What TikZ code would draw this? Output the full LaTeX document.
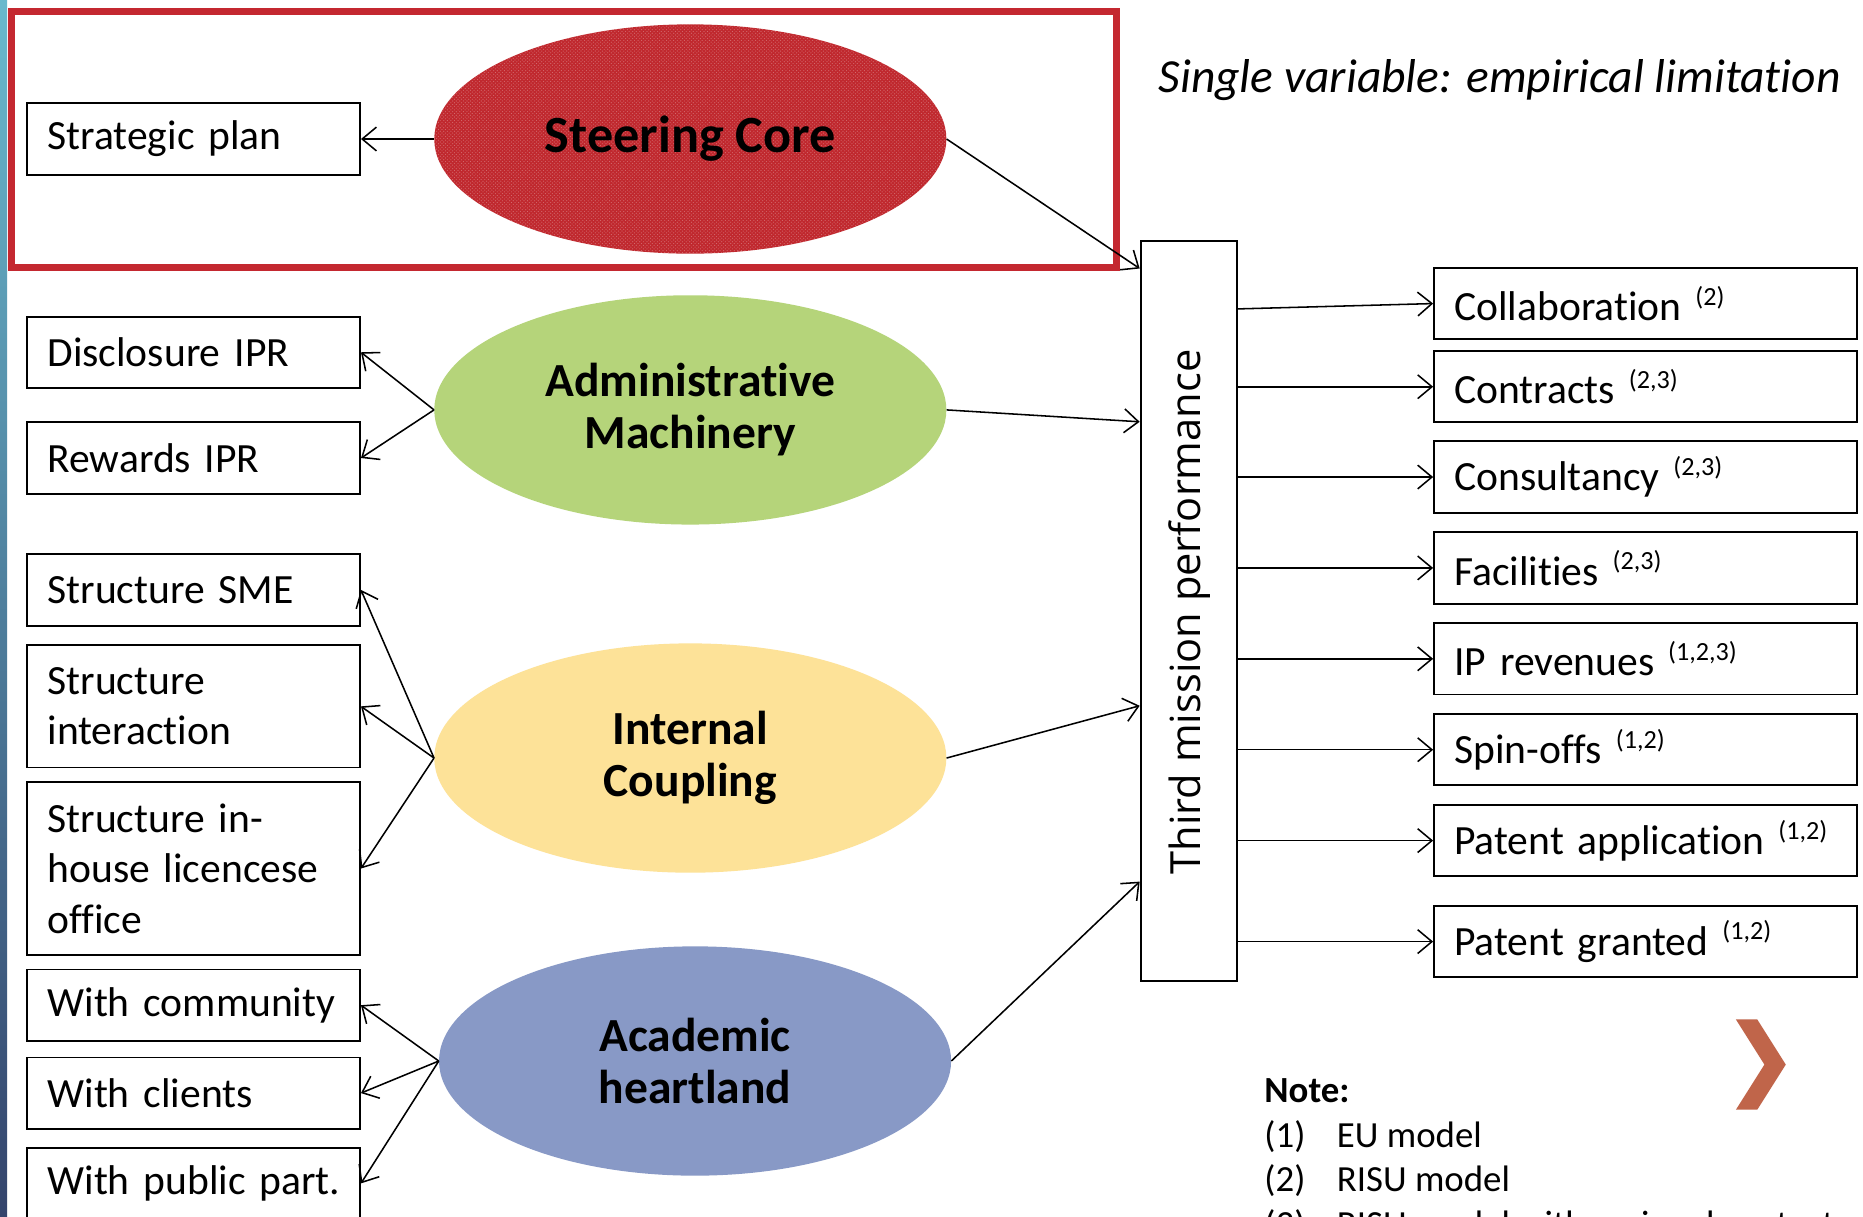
\documentclass[tikz,border=0pt]{standalone}
\usepackage{fontspec}
\setmainfont{Carlito}[Ligatures=NoCommon]
\newfontfamily\tmfont{Open Sans}
\usetikzlibrary{shapes.geometric,arrows.meta,patterns}
\definecolor{scred}{RGB}{192,40,46}
\definecolor{framered}{RGB}{196,40,48}
\definecolor{amgreen}{RGB}{181,212,122}
\definecolor{icyellow}{RGB}{253,226,152}
\definecolor{ahblue}{RGB}{136,153,198}
\definecolor{chev}{RGB}{192,101,74}
\definecolor{striptop}{RGB}{105,185,205}
\definecolor{stripbot}{RGB}{52,68,108}
\newcommand\supx[1]{\raisebox{13pt}{\fontsize{22}{22}\selectfont #1}}
\begin{document}
\begin{tikzpicture}[x=1pt,y=-1pt,
  lbox/.style={draw,line width=1.6pt,minimum width=280pt,text width=246pt,inner xsep=17pt,inner ysep=0pt,align=left,font=\fontsize{35}{42.5}\selectfont},
  rbox/.style={draw,line width=1.6pt,minimum width=356pt,text width=322pt,inner xsep=17pt,inner ysep=0pt,align=left,minimum height=60pt,font=\fontsize{35}{42.5}\selectfont},
  ell/.style={ellipse,minimum width=431pt,minimum height=193pt,inner sep=0pt,align=center,font=\bfseries\fontsize{40}{44}\selectfont},
  arr/.style={-{Straight Barb[length=12pt,width=20pt]},line width=1.3pt},
  notetxt/.style={anchor=base west,inner sep=0pt,font=\fontsize{31}{31}\selectfont}]
\useasboundingbox (0,0) rectangle (1568,1024);
\fill[white] (0,0) rectangle (1568,1024);
% left strip
\shade[top color=striptop,bottom color=stripbot] (0,0) rectangle (6,1024);
% red frame
\draw[framered,line width=6pt] (10,10) rectangle (940,225);
% ellipses
\node[ell,fill=scred,postaction={fill opacity=0.3,pattern=crosshatch dots,pattern color=white},font=\bfseries\fontsize{44}{44}\selectfont] (sc) at (581,117) {Steering Core};
\node[ell,fill=amgreen] (am) at (581,345) {Administrative\\Machinery};
\node[ell,fill=icyellow] (ic) at (581,638) {Internal\\Coupling};
\node[ell,fill=ahblue] (ah) at (585,893) {Academic\\heartland};
% left boxes
\node[lbox,minimum height=60pt] (sp) at (163,117) {Strategic plan};
\node[lbox,minimum height=60pt] (dis) at (163,296.5) {Disclosure IPR};
\node[lbox,minimum height=60pt] (rew) at (163,385.5) {Rewards IPR};
\node[lbox,minimum height=60pt] (sme) at (163,496.5) {Structure SME};
\node[lbox,minimum height=103pt] (sint) at (163,594.5) {Structure\\interaction};
\node[lbox,minimum height=146pt] (sinh) at (163,731) {Structure in-\\house licencese\\office};
\node[lbox,minimum height=60pt] (wcom) at (163,846) {\mbox{With community}};
\node[lbox,minimum height=60pt] (wcli) at (163,920) {With clients};
\node[lbox,minimum height=60pt] (wpub) at (163,996) {\mbox{With public part.}};
% third mission box
\node[draw,line width=1.6pt,minimum width=81pt,minimum height=623pt,inner sep=0pt] (tm) at (1000.5,514.5) {};
\node[rotate=90,inner sep=0pt,font=\tmfont\fontsize{35}{35}\selectfont] (tmt) at (1001,515) {Third mission performance};
% right boxes
\node[rbox] (col) at (1385,255.5) {Collaboration \supx{(2)}};
\node[rbox] (con) at (1385,325.5) {Contracts \supx{(2,3)}};
\node[rbox] (cns) at (1385,401.5) {Consultancy \supx{(2,3)}};
\node[rbox] (fac) at (1385,478) {Facilities \supx{(2,3)}};
\node[rbox] (ipr) at (1385,554.5) {IP revenues \supx{(1,2,3)}};
\node[rbox] (spo) at (1385,631) {Spin-offs \supx{(1,2)}};
\node[rbox] (pap) at (1385,707.5) {Patent application \supx{(1,2)}};
\node[rbox] (pgr) at (1385,792.5) {Patent granted \supx{(1,2)}};
% arrows left
\draw[arr] (sc.west) -- (sp.east);
\draw[arr] (am.west) -- (dis.east);
\draw[arr] (am.west) -- (rew.east);
\draw[arr] (ic.west) -- (sme.east);
\draw[arr] (ic.west) -- (sint.east);
\draw[arr] (ic.west) -- (sinh.east);
\draw[arr] (ah.west) -- (wcom.east);
\draw[arr] (ah.west) -- (wcli.east);
\draw[arr] (ah.west) -- (wpub.east);
% arrows to third mission
\draw[arr] (sc.east) -- (tm.west |- 0,226);
\draw[arr] (am.east) -- (tm.west |- 0,355);
\draw[arr] (ic.east) -- (tm.west |- 0,594);
\draw[arr] (ah.east) -- (tm.west |- 0,742);
% arrows right
\draw[arr] (tm.east |- 0,260) -- (col.west);
\draw[arr] (tm.east |- con.west) -- (con.west);
\draw[arr] (tm.east |- cns.west) -- (cns.west);
\draw[arr] (tm.east |- fac.west) -- (fac.west);
\draw[arr] (tm.east |- ipr.west) -- (ipr.west);
\draw[arr] (tm.east |- spo.west) -- (spo.west);
\draw[arr] (tm.east |- pap.west) -- (pap.west);
\draw[arr] (tm.east |- pgr.west) -- (pgr.west);
% title
\node[anchor=base west,inner sep=0pt,font=\itshape\fontsize{40}{40}\selectfont] (title) at (975,78) {Single variable: empirical limitation};
% chevron
\fill[chev] (1461,858) -- (1479,858) -- (1503,896) -- (1479,934) -- (1461,934) -- (1485,896) -- cycle;
% note
\node[notetxt,font=\bfseries\fontsize{31}{31}\selectfont] (note) at (1064,928) {Note:};
\node[notetxt] (n1) at (1064,966) {\makebox[61pt][l]{(1)}EU model};
\node[notetxt] (n2) at (1064,1003) {\makebox[61pt][l]{(2)}RISU model};
\node[notetxt] (n3) at (1064,1041) {\makebox[61pt][l]{(3)}RISU model with regional context};
\end{tikzpicture}
\end{document}
